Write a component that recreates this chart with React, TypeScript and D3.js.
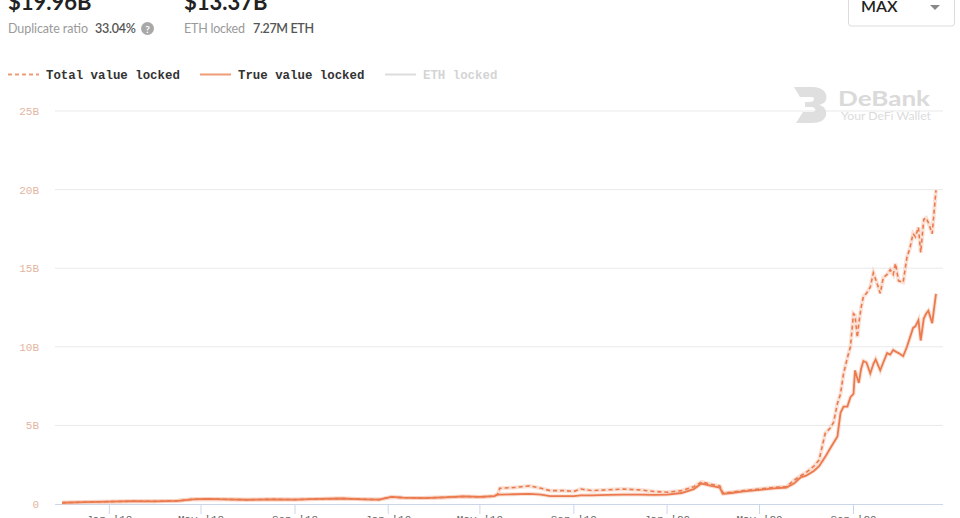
import React from "react";
import * as d3 from "d3";

// Daily snapshots of locked value (billions USD)
const dates: string[] = [
  "2017-10-31", "2017-12-01", "2018-01-01", "2018-02-01", "2018-03-01", "2018-04-01",
  "2018-04-20", "2018-05-10", "2018-06-01", "2018-07-01", "2018-08-01", "2018-09-01",
  "2018-10-01", "2018-11-01", "2018-12-01", "2018-12-20", "2019-01-05", "2019-01-20",
  "2019-02-15", "2019-03-15", "2019-04-10", "2019-05-01", "2019-05-20", "2019-05-24",
  "2019-05-27", "2019-06-15", "2019-07-05", "2019-07-20", "2019-08-01", "2019-08-20",
  "2019-09-01", "2019-09-10", "2019-09-25", "2019-10-15", "2019-11-05", "2019-11-25",
  "2019-12-15", "2020-01-01", "2020-01-20", "2020-02-05", "2020-02-15", "2020-02-28",
  "2020-03-10", "2020-03-14", "2020-03-25", "2020-04-10", "2020-05-01", "2020-05-20",
  "2020-06-05", "2020-06-15", "2020-06-24", "2020-07-01", "2020-07-11", "2020-07-18",
  "2020-07-26", "2020-08-01", "2020-08-06", "2020-08-11", "2020-08-15", "2020-08-19",
  "2020-08-24", "2020-08-28", "2020-09-01", "2020-09-03", "2020-09-06", "2020-09-08",
  "2020-09-11", "2020-09-14", "2020-09-18", "2020-09-23", "2020-09-27", "2020-09-30",
  "2020-10-06", "2020-10-10", "2020-10-15", "2020-10-19", "2020-10-23", "2020-10-26",
  "2020-10-30", "2020-11-05", "2020-11-10", "2020-11-14", "2020-11-18", "2020-11-21",
  "2020-11-25", "2020-11-28", "2020-12-02", "2020-12-05", "2020-12-08", "2020-12-13",
  "2020-12-18",
];

const totalValueLocked: number[] = [
  0.08, 0.12, 0.15, 0.18, 0.17, 0.2,
  0.3, 0.32, 0.3, 0.27, 0.3, 0.28,
  0.32, 0.35, 0.3, 0.28, 0.45, 0.4,
  0.38, 0.42, 0.48, 0.45, 0.5, 0.6,
  1.0, 1.05, 1.15, 1.0, 0.85, 0.85,
  0.8, 0.95, 0.85, 0.9, 0.95, 0.9,
  0.8, 0.75, 0.85, 1.1, 1.4, 1.25,
  1.15, 0.7, 0.75, 0.85, 0.95, 1.05,
  1.1, 1.5, 1.8, 2.0, 2.4, 2.8,
  4.5, 4.8, 5.2, 6.4, 7.0, 8.3,
  9.3, 10.0, 12.1, 12.0, 10.6, 11.5,
  12.5, 13.2, 13.4, 13.8, 14.7, 14.3,
  13.4, 14.4, 14.6, 14.9, 14.6, 15.3,
  14.2, 14.1, 15.7, 16.3, 17.2, 17.0,
  17.6, 16.0, 18.1, 18.2, 17.9, 17.2,
  19.96,
];

const trueValueLocked: number[] = [
  0.08, 0.12, 0.15, 0.18, 0.17, 0.2,
  0.3, 0.32, 0.3, 0.27, 0.3, 0.28,
  0.32, 0.35, 0.3, 0.28, 0.45, 0.4,
  0.38, 0.42, 0.48, 0.45, 0.5, 0.6,
  0.6, 0.62, 0.65, 0.6, 0.5, 0.5,
  0.5, 0.55, 0.55, 0.58, 0.6, 0.6,
  0.58, 0.6, 0.7, 0.95, 1.3, 1.15,
  1.05, 0.65, 0.7, 0.8, 0.9, 1.0,
  1.05, 1.3, 1.7, 1.8, 2.1, 2.4,
  3.0, 3.5, 3.9, 4.3, 5.8, 6.2,
  6.2, 6.8, 7.0, 8.5, 8.0, 7.7,
  8.6, 9.1, 9.0, 8.3, 8.9, 9.2,
  8.5, 9.0, 9.6, 9.5, 9.8, 9.7,
  9.6, 9.4, 10.0, 10.6, 11.2, 11.3,
  11.7, 10.4, 11.8, 12.1, 12.3, 11.5,
  13.37,
];

const yTicks: number[] = [0, 5, 10, 15, 20, 25];

const headline = {
  total: "$19.96B",
  trueValue: "$13.37B",
  duplicateLabel: "Duplicate ratio",
  duplicateValue: "33.04%",
  ethLabel: "ETH locked",
  ethValue: "7.27M ETH",
};

const legendItems = ["Total value locked", "True value locked", "ETH locked"];

const W = 960;
const H = 518;
const ORANGE = "#eb7a4e";
const HALO = "#f6c9b4";
const MONO = "'Liberation Mono', 'Courier New', monospace";
const SANS = "Lato, 'Open Sans', sans-serif";

export default function App() {
  const parse = d3.timeParse("%Y-%m-%d");
  const pts = dates.map((d, i) => ({
    date: parse(d) as Date,
    total: totalValueLocked[i],
    tru: trueValueLocked[i],
  }));

  const x = d3
    .scaleTime()
    .domain(d3.extent(pts, (p) => p.date) as [Date, Date])
    .range([62, 936]);
  const y = d3.scaleLinear().domain([0, 25]).range([504, 111]);

  const lineTotal = d3
    .line<(typeof pts)[number]>()
    .x((p) => x(p.date))
    .y((p) => y(p.total));
  const lineTrue = d3
    .line<(typeof pts)[number]>()
    .x((p) => x(p.date))
    .y((p) => y(p.tru));

  const xTicks = x.ticks(d3.timeMonth.every(4) as d3.TimeInterval).filter(
    (t) => t >= (parse("2018-01-01") as Date)
  );
  const fmt = d3.timeFormat("%b '%y");

  return (
    <div style={{ position: "fixed", left: 0, top: 0, width: W, height: H, background: "#fff" }}>
      <svg width={W} height={H} style={{ display: "block" }}>
        <rect width={W} height={H} fill="#fff" />

        {/* headline figures */}
        <g fontFamily={SANS}>
          <text x={8} y={10} fontSize={22} fontWeight={700} fill="#222">
            {headline.total}
          </text>
          <text x={184} y={10} fontSize={22} fontWeight={700} fill="#222">
            {headline.trueValue}
          </text>
          <text x={8} y={33} fontSize={12.5} fill="#9a9a9a" textLength={80}>
            {headline.duplicateLabel}
          </text>
          <text x={95} y={33} fontSize={12.5} fontWeight={600} fill="#555" textLength={41}>
            {headline.duplicateValue}
          </text>
          <circle cx={147.5} cy={28.5} r={6.5} fill="#a8a8a8" />
          <text x={147.5} y={32.5} fontSize={10} fontWeight={700} fill="#fff" textAnchor="middle">
            ?
          </text>
          <text x={184} y={33} fontSize={12.5} fill="#9a9a9a" textLength={61}>
            {headline.ethLabel}
          </text>
          <text x={253} y={33} fontSize={12.5} fontWeight={600} fill="#555" textLength={61}>
            {headline.ethValue}
          </text>
        </g>

        {/* range selector */}
        <rect x={848.5} y={-6} width={106} height={32} rx={3} fill="#fff" stroke="#dcdcdc" />
        <text x={861} y={12} fontFamily={SANS} fontSize={16} fontWeight={600} fill="#222">
          MAX
        </text>
        <path d="M930,5 L940,5 L935,10 Z" fill="#888" />

        {/* legend */}
        <g fontFamily={MONO} fontSize={12.4} fontWeight={700}>
          <line x1={8} x2={39} y1={74.5} y2={74.5} stroke="#ef9b78" strokeWidth={2} strokeDasharray="4,3" />
          <text x={46} y={78.5} fill="#333">{legendItems[0]}</text>
          <line x1={200} x2={231} y1={74.5} y2={74.5} stroke="#ef9b78" strokeWidth={2} />
          <text x={238} y={78.5} fill="#333">{legendItems[1]}</text>
          <line x1={385} x2={416} y1={74.5} y2={74.5} stroke="#dcdcdc" strokeWidth={2} />
          <text x={423} y={78.5} fill="#d4d4d4">{legendItems[2]}</text>
        </g>

        {/* grid and y labels */}
        <g>
          {yTicks.map((t) => (
            <g key={t}>
              {t > 0 && (
                <line x1={55} x2={943} y1={y(t)} y2={y(t)} stroke="#e9e9e9" strokeWidth={1} />
              )}
              <text
                x={39}
                y={y(t) + 4}
                textAnchor="end"
                fontFamily={MONO}
                fontSize={11}
                fill="#e3b5a0"
              >
                {t === 0 ? "0" : `${t}B`}
              </text>
            </g>
          ))}
        </g>

        {/* watermark */}
        <g opacity={0.9}>
          <path
            d="M794,87 L812,87 C824,87 828,94 826,100 C825,103 822,104 819,105 C824,106 827,110 826,115 C825,120 820,123 812,123 L796,123 L803,112 L812,112 C815,112 816,110 815,109 C814,107 812,107 809,107 L805,107 L805,102 L809,102 C812,102 814,101 814,99 C814,97 812,97 809,97 L800,97 Z"
            fill="#dcdcdc"
          />
          <text
            x={838}
            y={106}
            fontFamily={SANS}
            fontSize={20}
            fontWeight={700}
            fill="#d6d6d6"
            textLength={92}
            lengthAdjust="spacingAndGlyphs"
          >
            DeBank
          </text>
          <text
            x={841}
            y={120}
            fontFamily={SANS}
            fontSize={10.5}
            fill="#d9d9d9"
            textLength={90}
            lengthAdjust="spacingAndGlyphs"
          >
            Your DeFi Wallet
          </text>
        </g>

        {/* x axis */}
        <line x1={55} x2={943} y1={504.5} y2={504.5} stroke="#ccd6eb" strokeWidth={1} />
        {xTicks.map((t) => (
          <g key={t.getTime()}>
            <line x1={x(t)} x2={x(t)} y1={504} y2={514} stroke="#ccd6eb" strokeWidth={1} />
            <text
              x={x(t)}
              y={523}
              textAnchor="middle"
              fontFamily={MONO}
              fontSize={11}
              fill="#666"
            >
              {fmt(t)}
            </text>
          </g>
        ))}

        {/* series */}
        <path d={lineTotal(pts) ?? ""} fill="none" stroke={HALO} strokeWidth={4} opacity={0.55} />
        <path d={lineTrue(pts) ?? ""} fill="none" stroke={HALO} strokeWidth={4} opacity={0.55} />
        <path
          d={lineTotal(pts) ?? ""}
          fill="none"
          stroke={ORANGE}
          strokeWidth={1.6}
          strokeDasharray="4,3"
        />
        <path d={lineTrue(pts) ?? ""} fill="none" stroke={ORANGE} strokeWidth={1.8} />
      </svg>
    </div>
  );
}
